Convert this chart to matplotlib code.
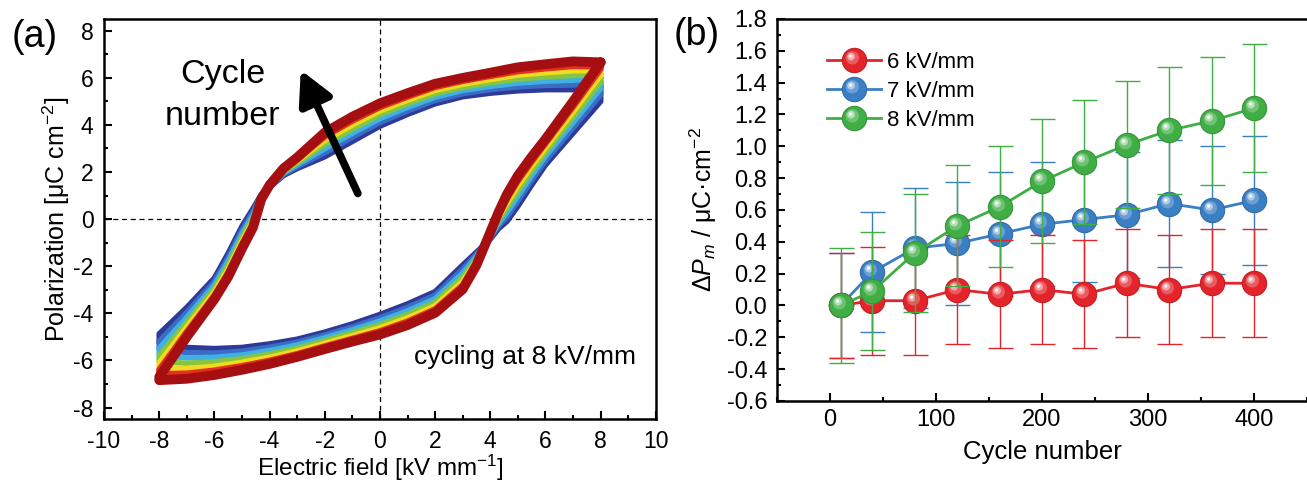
import numpy as np
import matplotlib
matplotlib.use('Agg')
import matplotlib.pyplot as plt
from matplotlib.path import Path
from matplotlib.markers import MarkerStyle
from matplotlib.legend_handler import HandlerTuple
from matplotlib.ticker import MultipleLocator, FuncFormatter
from matplotlib.colors import to_rgb

plt.rcParams['font.family'] = ['Liberation Sans', 'DejaVu Sans']
plt.rcParams['mathtext.fontset'] = 'custom'
plt.rcParams['mathtext.rm'] = 'Liberation Sans'
plt.rcParams['mathtext.it'] = 'Liberation Sans:italic'
plt.rcParams['mathtext.bf'] = 'Liberation Sans:bold'
plt.rcParams['axes.unicode_minus'] = False

# ---------------- Panel (a): P-E loops (first cycle -> last cycle) ----------------
E_up = [8, 7, 6, 5, 4, 3, 2, 1, 0, -1, -2, -3, -3.5, -4, -4.3, -4.6, -5, -5.5, -6, -7, -8]
E_dn = [-8, -7, -6, -5, -4, -3, -2, -1, 0, 1, 2, 3, 3.5, 4, 4.3, 4.6, 5, 5.5, 6, 7, 8]

up_1 = [5.65, 5.50, 5.50, 5.45, 5.35, 5.20, 4.90, 4.45, 3.95, 3.30, 2.65, 2.15, 1.85, 1.35, 1.05, 0.45, -0.30, -1.45, -2.50, -3.75, -4.87]
up_2 = [5.82, 5.70, 5.68, 5.62, 5.50, 5.33, 5.04, 4.60, 4.11, 3.48, 2.82, 2.23, 1.90, 1.37, 1.02, 0.32, -0.46, -1.62, -2.65, -3.96, -5.18]
up_3 = [5.99, 5.90, 5.86, 5.78, 5.64, 5.47, 5.18, 4.75, 4.27, 3.65, 2.99, 2.31, 1.95, 1.38, 0.98, 0.18, -0.62, -1.78, -2.80, -4.17, -5.48]
up_4 = [6.16, 6.10, 6.04, 5.95, 5.79, 5.60, 5.33, 4.90, 4.44, 3.83, 3.17, 2.39, 2.00, 1.40, 0.95, 0.05, -0.78, -1.95, -2.95, -4.38, -5.79]
up_5 = [6.32, 6.30, 6.22, 6.12, 5.93, 5.73, 5.47, 5.05, 4.60, 4.00, 3.34, 2.46, 2.05, 1.42, 0.92, -0.08, -0.93, -2.12, -3.10, -4.58, -6.09]
up_6 = [6.49, 6.50, 6.40, 6.28, 6.08, 5.87, 5.61, 5.20, 4.76, 4.18, 3.51, 2.54, 2.10, 1.43, 0.88, -0.22, -1.09, -2.28, -3.25, -4.79, -6.40]
up_7 = [6.66, 6.70, 6.58, 6.45, 6.22, 6.00, 5.75, 5.35, 4.92, 4.35, 3.68, 2.62, 2.15, 1.45, 0.85, -0.35, -1.25, -2.45, -3.40, -5.00, -6.70]

dn_1 = [-5.25, -5.45, -5.50, -5.45, -5.30, -5.10, -4.80, -4.45, -4.05, -3.60, -3.08, -1.95, -1.40, -0.85, -0.40, -0.10, 0.55, 1.45, 2.30, 3.65, 5.00]
dn_2 = [-5.52, -5.67, -5.69, -5.61, -5.44, -5.23, -4.92, -4.58, -4.19, -3.75, -3.23, -2.12, -1.49, -0.80, -0.28, 0.09, 0.77, 1.65, 2.48, 3.88, 5.28]
dn_3 = [-5.78, -5.89, -5.87, -5.77, -5.58, -5.35, -5.04, -4.70, -4.33, -3.90, -3.38, -2.29, -1.58, -0.75, -0.17, 0.28, 0.98, 1.85, 2.67, 4.10, 5.55]
dn_4 = [-6.05, -6.12, -6.06, -5.93, -5.73, -5.48, -5.16, -4.83, -4.48, -4.05, -3.53, -2.47, -1.68, -0.70, -0.05, 0.48, 1.20, 2.05, 2.85, 4.33, 5.83]
dn_5 = [-6.31, -6.34, -6.25, -6.08, -5.87, -5.60, -5.28, -4.95, -4.62, -4.20, -3.68, -2.64, -1.77, -0.65, 0.07, 0.67, 1.42, 2.25, 3.03, 4.55, 6.11]
dn_6 = [-6.58, -6.56, -6.43, -6.24, -6.01, -5.73, -5.40, -5.08, -4.76, -4.35, -3.83, -2.81, -1.86, -0.60, 0.18, 0.86, 1.63, 2.45, 3.22, 4.78, 6.38]
dn_7 = [-6.84, -6.78, -6.62, -6.40, -6.15, -5.85, -5.52, -5.20, -4.90, -4.50, -3.98, -2.98, -1.95, -0.55, 0.30, 1.05, 1.85, 2.65, 3.40, 5.00, 6.66]

loop_colors = ['#2d3a98', '#3b6cc6', '#3fb0e2', '#86c443', '#f0dc1e', '#e6301f', '#a50f12']
loop_widths = [4.0, 4.0, 4.0, 4.0, 4.0, 4.5, 7.0]

# ---------------- Panel (b): Delta Pm vs cycle number ----------------
cycles = [10, 40, 80, 120, 160, 200, 240, 280, 320, 360, 400]
dP_6 = [0.00, 0.03, 0.03, 0.10, 0.07, 0.10, 0.07, 0.14, 0.10, 0.14, 0.14]
err_6 = [0.33, 0.34, 0.34, 0.34, 0.34, 0.34, 0.34, 0.34, 0.34, 0.34, 0.34]
dP_7 = [0.00, 0.21, 0.36, 0.39, 0.45, 0.51, 0.54, 0.57, 0.64, 0.60, 0.66]
err_7 = [0.33, 0.375, 0.375, 0.385, 0.39, 0.39, 0.395, 0.395, 0.40, 0.40, 0.405]
dP_8 = [0.00, 0.09, 0.33, 0.50, 0.62, 0.78, 0.90, 1.01, 1.10, 1.16, 1.24]
err_8 = [0.36, 0.37, 0.37, 0.38, 0.38, 0.39, 0.39, 0.40, 0.40, 0.40, 0.40]
series_labels = ['6 kV/mm', '7 kV/mm', '8 kV/mm']
series_colors = ['#e3242b', '#3a7fc4', '#3fae45']

fig = plt.figure(figsize=(13.07, 4.83), dpi=100)

# ======== Panel (a) ========
axa = fig.add_axes([0.0796, 0.1319, 0.4222, 0.8288])
for (up, dn), c, lw in zip([(up_1, dn_1), (up_2, dn_2), (up_3, dn_3), (up_4, dn_4),
                            (up_5, dn_5), (up_6, dn_6), (up_7, dn_7)], loop_colors, loop_widths):
    ex = list(E_up) + list(E_dn) + [E_up[0]]
    py = list(up) + list(dn) + [up[0]]
    axa.plot(ex, py, color=c, lw=lw, solid_joinstyle='round', solid_capstyle='round', zorder=2)

axa.axhline(0, color='k', lw=0.9, ls=(0, (4, 3)), zorder=1)
axa.axvline(0, color='k', lw=0.9, ls=(0, (4, 3)), zorder=1)
axa.set_xlim(-10, 10)
axa.set_ylim(-8.5, 8.5)
axa.xaxis.set_major_locator(MultipleLocator(2))
axa.xaxis.set_minor_locator(MultipleLocator(1))
axa.yaxis.set_major_locator(MultipleLocator(2))
axa.yaxis.set_minor_locator(MultipleLocator(1))
axa.tick_params(which='both', direction='in', top=False, right=False, width=1.5)
axa.tick_params(which='major', length=6)
axa.tick_params(which='minor', length=3)
axa.tick_params(axis='y', labelsize=16.5, pad=7.5)
axa.tick_params(axis='x', labelsize=16.5, pad=7.5)
for s in axa.spines.values():
    s.set_linewidth(1.8)
axa.set_xlabel(r'Electric field [kV mm$^{-1}$]', fontsize=17.5, va='baseline')
axa.set_ylabel(r'Polarization [μC cm$^{-2}$]', fontsize=18)
axa.xaxis.set_label_coords(0.5, -0.1416)
axa.yaxis.set_label_coords(-0.058, 0.5)

axa.annotate('', xy=(-2.87, 6.33), xytext=(-0.80, 1.09),
             arrowprops=dict(arrowstyle='-|>,head_length=20,head_width=10.5', mutation_scale=1,
                             lw=5.5, color='k', shrinkA=0, shrinkB=0, capstyle='round'), zorder=5)
axa.text(-5.70, 5.24, 'Cycle\nnumber', fontsize=24.5, ha='center', va='center', linespacing=1.45)
axa.text(5.25, -5.85, 'cycling at 8 kV/mm', fontsize=19, ha='center', va='center')
fig.text(35 / 1307, 1 - 37 / 483, '(a)', fontsize=27, ha='center', va='center')

# ======== Panel (b) ========
axb = fig.add_axes([0.5945, 0.1698, 0.4055, 0.7909])


def mix(c, f):
    r = np.array(to_rgb(c))
    return tuple(r + (1 - r) * f)


def dark(c, f):
    return tuple(np.array(to_rgb(c)) * (1 - f))


def offset_circle(cx, cy, r):
    circ = Path.circle((cx, cy), r)
    verts = np.vstack([[[1.0, 1.0]], [[-1.0, -1.0]], circ.vertices])
    codes = np.concatenate([[Path.MOVETO, Path.MOVETO], circ.codes])
    return MarkerStyle(Path(verts, codes))


hl_layers = [(offset_circle(-0.18, 0.22, 0.55), 0.25),
             (offset_circle(-0.28, 0.32, 0.32), 0.6),
             (offset_circle(-0.32, 0.36, 0.14), 0.95)]

ms = 17.5
order = [1, 0, 2]
handles = [None, None, None]
data = [(dP_6, err_6), (dP_7, err_7), (dP_8, err_8)]
for k, i in enumerate(order):
    vals, err = data[i]
    c = series_colors[i]
    z = 3 + 2 * k
    axb.errorbar(cycles, vals, yerr=err, fmt='none', ecolor=c, elinewidth=1.0,
                 capsize=9, capthick=1.0, zorder=z)
    base, = axb.plot(cycles, vals, '-o', color=c, lw=2.0, ms=ms, mfc=c,
                     mec=dark(c, 0.15), mew=0.8, zorder=z + 0.5)
    hls = []
    for mk, f in hl_layers:
        h, = axb.plot(cycles, vals, ls='none', marker=mk, ms=ms, mfc=mix(c, f),
                      mec='none', zorder=z + 0.6)
        hls.append(h)
    handles[i] = tuple([base] + hls)

axb.set_xlim(-50, 450)
axb.set_ylim(-0.6, 1.8)
axb.xaxis.set_major_locator(MultipleLocator(100))
axb.xaxis.set_minor_locator(MultipleLocator(50))
axb.yaxis.set_major_locator(MultipleLocator(0.2))
axb.yaxis.set_minor_locator(MultipleLocator(0.1))
axb.yaxis.set_major_formatter(FuncFormatter(lambda v, p: f"{round(v, 1) + 0.0:.1f}"))
axb.tick_params(which='both', direction='in', top=False, right=False, width=1.5)
axb.tick_params(which='major', length=6)
axb.tick_params(which='minor', length=3)
axb.tick_params(axis='y', labelsize=17, pad=7)
axb.tick_params(axis='x', labelsize=17, pad=6)
for s in axb.spines.values():
    s.set_linewidth(1.8)
axb.spines['right'].set_visible(False)
axb.set_xlabel('Cycle number', fontsize=18.5, va='baseline')
axb.set_ylabel(r'$\Delta P_m$ / μC·cm$^{-2}$', fontsize=18)
axb.xaxis.set_label_coords(0.5, -0.152)
axb.yaxis.set_label_coords(-0.109, 0.5)

axb.legend(handles=handles, labels=series_labels, handler_map={tuple: HandlerTuple(ndivide=1)},
           loc='upper left', bbox_to_anchor=(0.074, 0.943), frameon=False, fontsize=16,
           handlelength=2.4, handletextpad=0.3, labelspacing=0.36, borderpad=0, numpoints=1)

fig.text(697 / 1307, 1 - 35 / 483, '(b)', fontsize=27, ha='center', va='center')

fig.savefig('out.png', dpi=100)
